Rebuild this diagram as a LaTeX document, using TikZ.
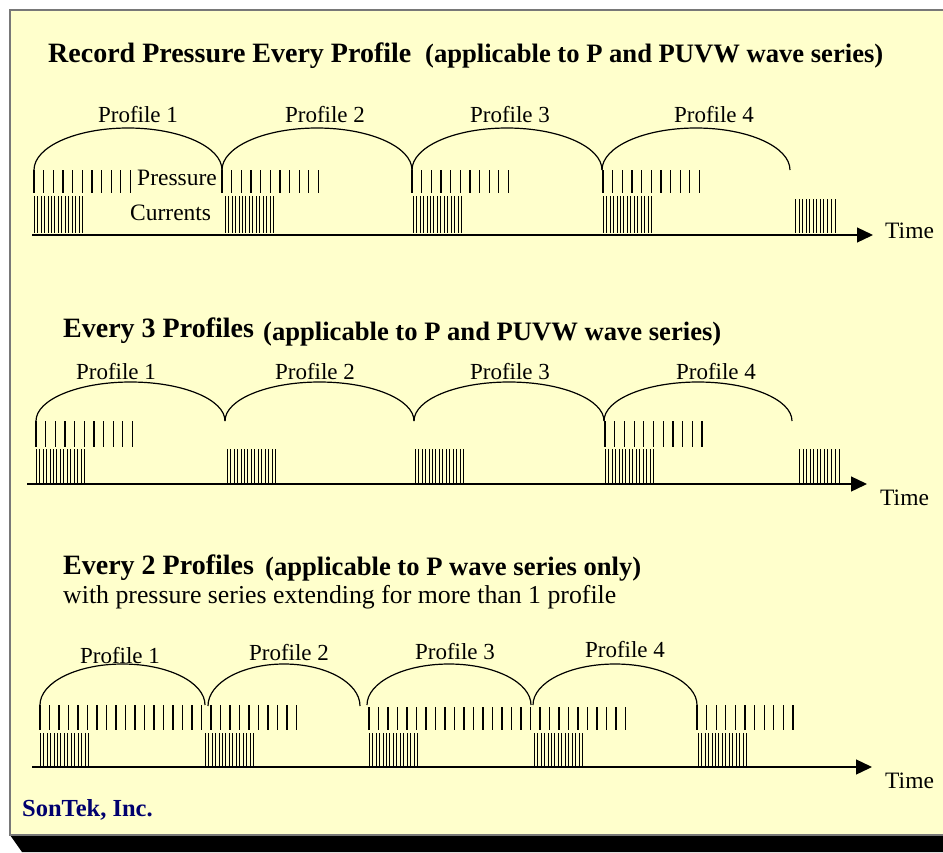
\documentclass[tikz,border=0pt]{standalone}
\usepackage{fontspec}
\setmainfont{Liberation Serif}
\usetikzlibrary{arrows.meta}
\definecolor{panel}{RGB}{255,255,204}
\definecolor{navy}{RGB}{0,0,110}
\definecolor{framegray}{RGB}{120,120,120}
\newcommand\profarc[4]{% x0, x1, ybase, ytop
  \draw[arcl] (#1,#3) arc[start angle=180, end angle=360, x radius={(#2-#1)/2}, y radius={#3-#4}];}
\newcommand\pticks[5]{% x0, n, dx, ytop, ybot
  \foreach \i in {1,...,#2}{\draw[tk] ({#1+(\i-1)*#3},#4) -- ({#1+(\i-1)*#3},#5);}}
\newcommand\cburst[3]{% x0, ytop, ybot
  \foreach \o in {0,3,7,10,14,17,20,24,27,31,34,38,41,45,48}{\draw[ctk] (#1+\o,#2) -- (#1+\o,#3);}}
\newcommand\lburst[3]{% x0, ytop, ybot
  \foreach \o in {0,4,7,11,14,18,21,25,28,32,36,40}{\draw[ctk] (#1+\o,#2) -- (#1+\o,#3);}}
\begin{document}
\begin{tikzpicture}[x=1pt,y=-1pt,
  lbl/.style={inner sep=0pt, anchor=base, font=\fontsize{23}{25}\selectfont},
  lblw/.style={inner sep=0pt, anchor=base west, font=\fontsize{23.5}{25}\selectfont},
  ttl/.style={inner sep=0pt, anchor=base west, font=\fontsize{28}{30}\selectfont\bfseries},
  par/.style={inner sep=0pt, anchor=base west, font=\fontsize{26.6}{28}\selectfont\bfseries},
  sub/.style={inner sep=0pt, anchor=base west, font=\fontsize{25.8}{27}\selectfont},
  tk/.style={line width=1.2pt},
  ctk/.style={line width=1.0pt},
  arcl/.style={line width=1.2pt},
  axis/.style={line width=1.3pt, -{Triangle[length=16pt,width=15pt]}},
]
\useasboundingbox (0,0) rectangle (943,852);
\fill[white] (0,0) rectangle (943,852);
% panel and shadow
\fill[black] (10,835) -- (943,835) -- (943,852) -- (22,852) -- cycle;
\fill[panel] (10,10) rectangle (943,835);
\draw[framegray, line width=1.2pt] (943,10) -- (10,10) -- (10,835) -- (943,835);

% ---------- Section 1 ----------
\node[ttl] (t1) at (48,62) {Record Pressure Every Profile};
\node[par] (p1) at (425,62) {(applicable to P and PUVW wave series)};
\node[lbl] (s1p1) at (138,122) {Profile 1};
\node[lbl] (s1p2) at (325,122) {Profile 2};
\node[lbl] (s1p3) at (510,122) {Profile 3};
\node[lbl] (s1p4) at (714,122) {Profile 4};
\profarc{34}{222}{170}{128}
\profarc{222}{412}{170}{128}
\profarc{412}{602}{170}{128}
\profarc{602}{790}{170}{128}
\pticks{34}{11}{9.65}{170}{193}
\pticks{222}{11}{9.65}{170}{193}
\pticks{412}{11}{9.65}{170}{193}
\pticks{603}{11}{9.65}{170}{193}
\cburst{34}{196}{233}
\cburst{225}{196}{233}
\cburst{413}{196}{233}
\cburst{603}{196}{233}
\lburst{795}{199}{233}
\node[lblw] (press) at (137,185) {Pressure};
\node[lblw] (curr) at (130,220) {Currents};
\coordinate (a1s) at (32,235);
\coordinate (a1e) at (873,235);
\draw[axis] (a1s) -- (a1e);
\node[lblw] (time1) at (885,238) {Time};

% ---------- Section 2 ----------
\node[ttl] (t2) at (63,337) {Every 3 Profiles};
\node[par] (p2) at (263,340) {(applicable to P and PUVW wave series)};
\node[lbl] (s2p1) at (116,379) {Profile 1};
\node[lbl] (s2p2) at (315,379) {Profile 2};
\node[lbl] (s2p3) at (510,379) {Profile 3};
\node[lbl] (s2p4) at (716,379) {Profile 4};
\profarc{36}{225}{421}{382}
\profarc{225}{414}{421}{382}
\profarc{414}{604}{421}{382}
\profarc{604}{792}{421}{382}
\pticks{36}{11}{9.65}{421}{447}
\pticks{605}{11}{9.7}{421}{447}
\cburst{36}{449}{484}
\cburst{227}{449}{484}
\cburst{415}{449}{484}
\cburst{605}{449}{484}
\lburst{799}{449}{484}
\coordinate (a2s) at (27,484);
\coordinate (a2e) at (867,484);
\draw[axis] (a2s) -- (a2e);
\node[lblw] (time2) at (880,505) {Time};

% ---------- Section 3 ----------
\node[ttl] (t3) at (63,574) {Every 2 Profiles};
\node[par] (p3) at (265,575) {(applicable to P wave series only)};
\node[sub] (sub3) at (63,603) {with pressure series extending for more than 1 profile};
\node[lbl] (s3p1) at (120,663) {Profile 1};
\node[lbl] (s3p2) at (289,660) {Profile 2};
\node[lbl] (s3p3) at (455,659) {Profile 3};
\node[lbl] (s3p4) at (625,657) {Profile 4};
\profarc{40}{205}{705}{664}
\profarc{208}{360}{706}{664}
\profarc{367}{531}{705}{664}
\profarc{533}{697}{705}{664}
\pticks{40}{28}{9.5}{705}{730}
\pticks{369}{28}{9.5}{707}{730}
\pticks{697}{11}{9.6}{705}{730}
\cburst{40}{733}{768}
\cburst{205}{733}{768}
\cburst{369}{733}{768}
\cburst{534}{733}{768}
\cburst{698}{733}{768}
\coordinate (a3s) at (32,767);
\coordinate (a3e) at (872,767);
\draw[axis] (a3s) -- (a3e);
\node[lblw] (time3) at (885,788) {Time};

\node[inner sep=0pt, anchor=base west, text=navy, font=\fontsize{24.5}{26}\selectfont\bfseries] (sontek) at (22,816) {SonTek, Inc.};
\end{tikzpicture}
\end{document}
